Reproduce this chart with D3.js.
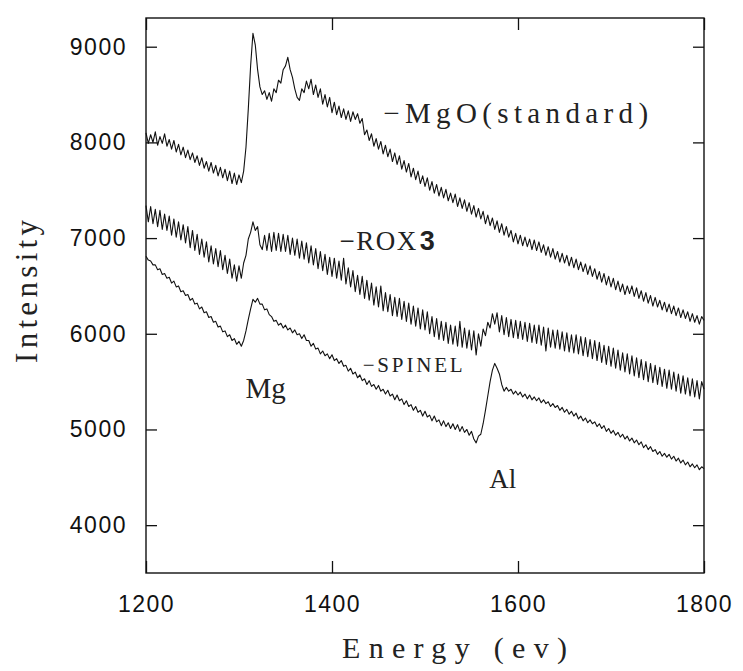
<!DOCTYPE html>
<html>
<head>
<meta charset="utf-8">
<script src="https://cdn.jsdelivr.net/npm/d3@7"></script>
<style>
    body { margin: 0; background: #fff; }
    .axis text { fill: #111; }
</style>
</head>
<body>
<div id="chart"></div>
<script>

// Energy (ev) sampling of the three spectra, one row = 50 ev
const energy = [
    1200, 1202.5, 1205, 1207.5, 1210, 1212.5, 1215, 1217.5, 1220, 1222.5, 1225, 1227.5, 1230, 1232.5, 1235, 1237.5, 1240, 1242.5, 1245, 1247.5,
    1250, 1252.5, 1255, 1257.5, 1260, 1262.5, 1265, 1267.5, 1270, 1272.5, 1275, 1277.5, 1280, 1282.5, 1285, 1287.5, 1290, 1292.5, 1295, 1297.5,
    1300, 1302.5, 1305, 1307.5, 1310, 1312.5, 1315, 1317.5, 1320, 1322.5, 1325, 1327.5, 1330, 1332.5, 1335, 1337.5, 1340, 1342.5, 1345, 1347.5,
    1350, 1352.5, 1355, 1357.5, 1360, 1362.5, 1365, 1367.5, 1370, 1372.5, 1375, 1377.5, 1380, 1382.5, 1385, 1387.5, 1390, 1392.5, 1395, 1397.5,
    1400, 1402.5, 1405, 1407.5, 1410, 1412.5, 1415, 1417.5, 1420, 1422.5, 1425, 1427.5, 1430, 1432.5, 1435, 1437.5, 1440, 1442.5, 1445, 1447.5,
    1450, 1452.5, 1455, 1457.5, 1460, 1462.5, 1465, 1467.5, 1470, 1472.5, 1475, 1477.5, 1480, 1482.5, 1485, 1487.5, 1490, 1492.5, 1495, 1497.5,
    1500, 1502.5, 1505, 1507.5, 1510, 1512.5, 1515, 1517.5, 1520, 1522.5, 1525, 1527.5, 1530, 1532.5, 1535, 1537.5, 1540, 1542.5, 1545, 1547.5,
    1550, 1552.5, 1555, 1557.5, 1560, 1562.5, 1565, 1567.5, 1570, 1572.5, 1575, 1577.5, 1580, 1582.5, 1585, 1587.5, 1590, 1592.5, 1595, 1597.5,
    1600, 1602.5, 1605, 1607.5, 1610, 1612.5, 1615, 1617.5, 1620, 1622.5, 1625, 1627.5, 1630, 1632.5, 1635, 1637.5, 1640, 1642.5, 1645, 1647.5,
    1650, 1652.5, 1655, 1657.5, 1660, 1662.5, 1665, 1667.5, 1670, 1672.5, 1675, 1677.5, 1680, 1682.5, 1685, 1687.5, 1690, 1692.5, 1695, 1697.5,
    1700, 1702.5, 1705, 1707.5, 1710, 1712.5, 1715, 1717.5, 1720, 1722.5, 1725, 1727.5, 1730, 1732.5, 1735, 1737.5, 1740, 1742.5, 1745, 1747.5,
    1750, 1752.5, 1755, 1757.5, 1760, 1762.5, 1765, 1767.5, 1770, 1772.5, 1775, 1777.5, 1780, 1782.5, 1785, 1787.5, 1790, 1792.5, 1795, 1797.5,
    1800
];

// MgO (standard)
const mgoStandard = [
    8100, 7990, 8080, 8000, 8110, 7970, 8060, 7990, 8090, 7960, 8030, 7930, 8020, 7900, 7980, 7870, 7950, 7840, 7920, 7820,
    7890, 7790, 7860, 7760, 7840, 7730, 7800, 7700, 7790, 7680, 7760, 7650, 7740, 7630, 7720, 7600, 7700, 7570, 7680, 7560,
    7660, 7580, 7700, 7950, 8350, 8800, 9140, 9020, 8760, 8580, 8500, 8540, 8450, 8520, 8430, 8560, 8520, 8650, 8620, 8760,
    8800, 8890, 8760, 8680, 8560, 8470, 8440, 8560, 8520, 8640, 8560, 8660, 8500, 8600, 8470, 8560, 8400, 8500, 8370, 8470,
    8310, 8420, 8290, 8380, 8260, 8350, 8240, 8330, 8220, 8320, 8240, 8300, 8200, 8250, 8080, 8130, 8020, 8090, 7960, 8040,
    7930, 8010, 7880, 7970, 7850, 7930, 7800, 7890, 7770, 7860, 7720, 7810, 7690, 7780, 7640, 7730, 7610, 7700, 7570, 7650,
    7540, 7630, 7500, 7590, 7470, 7560, 7440, 7530, 7420, 7510, 7390, 7470, 7370, 7460, 7330, 7420, 7310, 7400, 7280, 7370,
    7250, 7340, 7220, 7310, 7200, 7280, 7150, 7240, 7130, 7210, 7090, 7180, 7060, 7150, 7030, 7120, 7010, 7080, 6960, 7050,
    6940, 7030, 6920, 7010, 6910, 6990, 6880, 6980, 6870, 6960, 6850, 6930, 6820, 6910, 6800, 6890, 6780, 6860, 6750, 6840,
    6740, 6820, 6710, 6800, 6690, 6780, 6670, 6750, 6650, 6730, 6620, 6710, 6600, 6680, 6570, 6650, 6540, 6630, 6510, 6600,
    6490, 6580, 6460, 6550, 6440, 6520, 6410, 6500, 6420, 6500, 6390, 6480, 6370, 6450, 6340, 6430, 6320, 6400, 6290, 6380,
    6280, 6350, 6250, 6330, 6230, 6310, 6210, 6290, 6190, 6270, 6170, 6250, 6160, 6230, 6130, 6210, 6120, 6190, 6100, 6180,
    6140
];

// ROX3
const rox3 = [
    7340, 7170, 7330, 7150, 7300, 7120, 7290, 7090, 7250, 7080, 7230, 7030, 7200, 7010, 7170, 6980, 7140, 6950, 7120, 6900,
    7080, 6870, 7040, 6830, 6990, 6800, 6960, 6750, 6920, 6730, 6890, 6700, 6870, 6670, 6820, 6630, 6780, 6580, 6720, 6550,
    6710, 6580, 6740, 6820, 6990, 7060, 7170, 7080, 7120, 6930, 6880, 7030, 6870, 7050, 6860, 7060, 6870, 7050, 6860, 7040,
    6860, 7030, 6830, 7000, 6820, 6990, 6790, 6970, 6780, 6950, 6740, 6920, 6720, 6890, 6680, 6860, 6660, 6830, 6620, 6800,
    6600, 6790, 6580, 6760, 6560, 6790, 6520, 6690, 6490, 6660, 6440, 6610, 6410, 6600, 6370, 6560, 6350, 6530, 6300, 6490,
    6280, 6500, 6240, 6430, 6230, 6410, 6190, 6380, 6180, 6370, 6150, 6340, 6130, 6320, 6100, 6290, 6080, 6270, 6050, 6250,
    6040, 6230, 6000, 6180, 5970, 6160, 5940, 6130, 5930, 6120, 5900, 6090, 5890, 6080, 5870, 6130, 5860, 6060, 5850, 6040,
    5830, 6030, 5780, 6000, 5870, 6050, 5980, 6120, 6060, 6210, 6100, 6220, 6020, 6190, 5990, 6170, 5970, 6150, 5960, 6140,
    5950, 6130, 5940, 6120, 5920, 6110, 5910, 6090, 5900, 6090, 5880, 6070, 5820, 6060, 5860, 6040, 5850, 6040, 5840, 6020,
    5820, 6010, 5810, 5990, 5800, 5990, 5790, 5970, 5770, 5960, 5760, 5940, 5740, 5930, 5720, 5910, 5700, 5880, 5680, 5870,
    5660, 5850, 5640, 5830, 5620, 5800, 5600, 5790, 5580, 5770, 5560, 5750, 5540, 5730, 5520, 5710, 5500, 5690, 5490, 5670,
    5470, 5650, 5450, 5630, 5430, 5620, 5420, 5600, 5400, 5580, 5380, 5560, 5370, 5540, 5350, 5530, 5340, 5510, 5320, 5500,
    5420
];

// SPINEL
const spinel = [
    6810, 6770, 6760, 6720, 6720, 6670, 6680, 6620, 6630, 6580, 6590, 6530, 6550, 6490, 6500, 6440, 6450, 6400, 6410, 6350,
    6370, 6310, 6320, 6260, 6280, 6220, 6230, 6170, 6180, 6120, 6130, 6070, 6080, 6020, 6030, 5970, 5990, 5930, 5950, 5890,
    5920, 5870, 5930, 6030, 6150, 6260, 6360, 6330, 6370, 6310, 6310, 6250, 6260, 6200, 6180, 6130, 6140, 6090, 6110, 6060,
    6090, 6040, 6060, 6010, 6040, 5990, 6000, 5950, 5990, 5930, 5930, 5870, 5900, 5840, 5850, 5790, 5820, 5770, 5790, 5740,
    5780, 5720, 5740, 5690, 5720, 5660, 5670, 5610, 5640, 5580, 5600, 5540, 5570, 5510, 5530, 5470, 5510, 5450, 5470, 5420,
    5460, 5400, 5420, 5370, 5410, 5350, 5370, 5310, 5360, 5300, 5320, 5260, 5300, 5240, 5260, 5200, 5240, 5180, 5200, 5140,
    5190, 5130, 5150, 5090, 5140, 5080, 5100, 5040, 5090, 5030, 5070, 5010, 5060, 5000, 5050, 4980, 5030, 4970, 5000, 4940,
    4980, 4900, 4860, 4930, 4950, 5060, 5200, 5350, 5500, 5620, 5690, 5640, 5580, 5470, 5400, 5440, 5400, 5420, 5370, 5400,
    5360, 5390, 5340, 5370, 5320, 5360, 5310, 5340, 5300, 5330, 5280, 5310, 5270, 5290, 5240, 5270, 5230, 5250, 5200, 5230,
    5180, 5210, 5160, 5190, 5140, 5170, 5110, 5140, 5090, 5120, 5070, 5100, 5060, 5080, 5030, 5060, 5010, 5040, 4980, 5010,
    4960, 4990, 4940, 4970, 4920, 4950, 4900, 4930, 4880, 4910, 4860, 4890, 4840, 4870, 4810, 4840, 4790, 4820, 4770, 4790,
    4740, 4770, 4720, 4750, 4710, 4740, 4690, 4720, 4670, 4700, 4650, 4680, 4630, 4660, 4610, 4640, 4600, 4630, 4580, 4610,
    4590
];

const xTicks = [1200, 1400, 1600, 1800];
const yTicks = [4000, 5000, 6000, 7000, 8000, 9000];

class SpectraChart {

    constructor(parentElement) {
        this.parentElement = parentElement;
        this.series = [mgoStandard, rox3, spinel];
        this.initVis();
    }

    initVis() {
        let vis = this;

        vis.margin = {top: 18, right: 39, bottom: 98, left: 146};
        vis.width = 743 - vis.margin.left - vis.margin.right;
        vis.height = 671 - vis.margin.top - vis.margin.bottom;

        vis.svg = d3.select("#" + vis.parentElement).append("svg")
            .attr("width", 743)
            .attr("height", 671)
            .append("g")
            .attr("transform", "translate(" + vis.margin.left + "," + vis.margin.top + ")");

        vis.x = d3.scaleLinear()
            .domain([1200, 1800])
            .range([0, vis.width]);

        vis.y = d3.scaleLinear()
            .domain([3500, 9300])
            .range([vis.height, 0]);

        // ticks point inward on all four sides
        let styleAxis = function (g) {
            g.select(".domain").remove();
            g.selectAll(".tick line").attr("stroke", "#111").attr("stroke-width", 1.3);
            g.attr("font-family", "'Liberation Sans', Arial, sans-serif")
                .attr("font-size", 23)
                .attr("letter-spacing", "1.5px");
        };

        vis.svg.append("g")
            .attr("class", "x-axis axis")
            .attr("transform", "translate(0," + vis.height + ")")
            .call(d3.axisBottom(vis.x).tickValues(xTicks).tickFormat(d3.format("d"))
                .tickSizeInner(-12).tickSizeOuter(0).tickPadding(23))
            .call(styleAxis);

        vis.svg.append("g")
            .attr("class", "x-axis-top axis")
            .call(d3.axisTop(vis.x).tickValues(xTicks).tickFormat("")
                .tickSizeInner(-12).tickSizeOuter(0))
            .call(styleAxis);

        vis.svg.append("g")
            .attr("class", "y-axis axis")
            .call(d3.axisLeft(vis.y).tickValues(yTicks).tickFormat(d3.format("d"))
                .tickSizeInner(-11).tickSizeOuter(0).tickPadding(19))
            .call(styleAxis);

        vis.svg.append("g")
            .attr("class", "y-axis-right axis")
            .attr("transform", "translate(" + vis.width + ",0)")
            .call(d3.axisRight(vis.y).tickValues(yTicks).tickFormat("")
                .tickSizeInner(-11).tickSizeOuter(0))
            .call(styleAxis);

        // frame
        vis.svg.append("rect")
            .attr("width", vis.width)
            .attr("height", vis.height)
            .attr("fill", "none")
            .attr("stroke", "#111")
            .attr("stroke-width", 1.4);

        // axis titles
        vis.svg.append("text")
            .attr("x", 196)
            .attr("y", vis.height + 85)
            .attr("font-family", "'Liberation Serif', 'Times New Roman', serif")
            .attr("font-size", 30)
            .attr("textLength", 225)
            .attr("lengthAdjust", "spacing")
            .attr("fill", "#222")
            .text("Energy (ev)");

        vis.svg.append("text")
            .attr("transform", "rotate(-90)")
            .attr("x", -345)
            .attr("y", -109)
            .attr("font-family", "'Liberation Serif', 'Times New Roman', serif")
            .attr("font-size", 31)
            .attr("textLength", 143)
            .attr("lengthAdjust", "spacing")
            .attr("fill", "#222")
            .text("Intensity");

        vis.wrangleData();
    }

    wrangleData() {
        let vis = this;

        vis.displayData = vis.series.map(values =>
            values.map((v, i) => ({energy: energy[i], intensity: v})));

        vis.updateVis();
    }

    updateVis() {
        let vis = this;

        let line = d3.line()
            .x(d => vis.x(d.energy))
            .y(d => vis.y(d.intensity));

        vis.svg.selectAll(".spectrum")
            .data(vis.displayData)
            .enter().append("path")
            .attr("class", "spectrum")
            .attr("d", line)
            .attr("fill", "none")
            .attr("stroke", "#111")
            .attr("stroke-width", 1.1)
            .attr("stroke-linejoin", "round");

        let serif = "'Liberation Serif', 'Times New Roman', serif";

        // curve labels
        vis.svg.append("text")
            .attr("x", vis.x(1455))
            .attr("y", vis.y(8205))
            .attr("font-family", serif)
            .attr("font-size", 29)
            .attr("textLength", 265)
            .attr("lengthAdjust", "spacing")
            .attr("fill", "#222")
            .text("\u2212MgO(standard)");

        let rox = vis.svg.append("text")
            .attr("x", vis.x(1408))
            .attr("y", vis.y(6880))
            .attr("font-family", serif)
            .attr("font-size", 27)
            .attr("letter-spacing", "1.5px")
            .attr("fill", "#222");
        rox.append("tspan").text("\u2212ROX");
        rox.append("tspan")
            .attr("font-family", "'Liberation Sans', Arial, sans-serif")
            .attr("font-weight", "bold")
            .attr("dx", 2)
            .text("3");

        vis.svg.append("text")
            .attr("x", vis.x(1433))
            .attr("y", vis.y(5600))
            .attr("font-family", serif)
            .attr("font-size", 21)
            .attr("textLength", 100)
            .attr("lengthAdjust", "spacing")
            .attr("fill", "#222")
            .text("\u2212SPINEL");

        vis.svg.append("text")
            .attr("x", vis.x(1307))
            .attr("y", vis.y(5330))
            .attr("font-family", serif)
            .attr("font-size", 29)
            .attr("fill", "#222")
            .text("Mg");

        vis.svg.append("text")
            .attr("x", vis.x(1569))
            .attr("y", vis.y(4390))
            .attr("font-family", serif)
            .attr("font-size", 27)
            .attr("fill", "#222")
            .text("Al");
    }
}

new SpectraChart("chart");

</script>
</body>
</html>
